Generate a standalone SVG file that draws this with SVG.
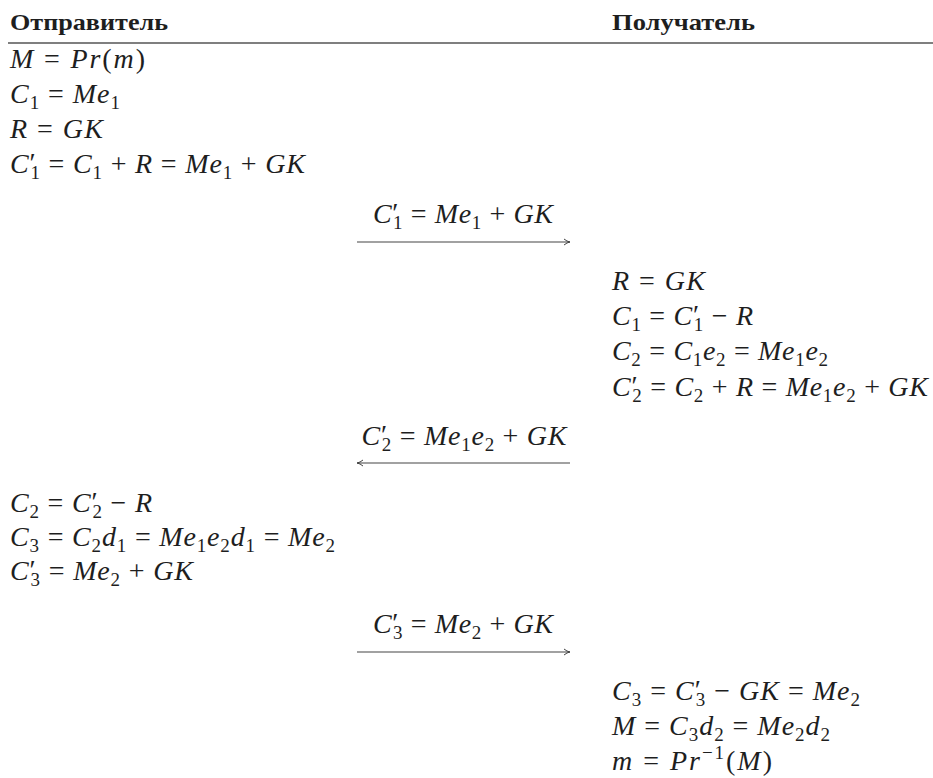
<svg xmlns="http://www.w3.org/2000/svg" width="933" height="778" viewBox="0 0 933 778">
<style>
text{font-family:"Liberation Serif","DejaVu Serif","Noto Serif",serif;fill:#1e1e1e;font-size:28px}
.h{font-weight:bold;font-size:23px}
.i{font-style:italic}
.s{font-size:19px}
.lbl{text-anchor:middle}
.conn line{stroke:#444;stroke-width:1.2}
</style>
<defs>
<marker id="ah" viewBox="0 0 8 8" refX="7" refY="4" markerWidth="8" markerHeight="8" markerUnits="userSpaceOnUse" orient="auto">
<path d="M1,1 Q4,3.5 7,4 Q4,4.5 1,7" fill="none" stroke="#444" stroke-width="1"/>
</marker>
</defs>
<rect width="933" height="778" fill="#fff"/>
<g id="header">
<text class="h" x="10" y="30" textLength="158" lengthAdjust="spacingAndGlyphs">Отправитель</text>
<text class="h" x="612" y="30" textLength="143" lengthAdjust="spacingAndGlyphs">Получатель</text>
<line x1="8" y1="43" x2="933" y2="43" stroke="#555" stroke-width="1.3"/>
</g>
<g id="sender-1">
<text x="10" y="68" textLength="135"><tspan class="i">M</tspan> = <tspan class="i">Pr</tspan>(<tspan class="i">m</tspan>)</text>
<text x="10" y="103" textLength="110"><tspan class="i">C</tspan><tspan class="s" dy="6">1</tspan><tspan dy="-6"> = </tspan><tspan class="i">Me</tspan><tspan class="s" dy="6">1</tspan></text>
<text x="10" y="138" textLength="93"><tspan class="i">R</tspan> = <tspan class="i">GK</tspan></text>
<text x="10" y="173" textLength="295"><tspan class="i">C</tspan><tspan dy="-1">′</tspan><tspan class="s" dx="-6" dy="7">1</tspan><tspan dy="-6"> = </tspan><tspan class="i">C</tspan><tspan class="s" dy="6">1</tspan><tspan dy="-6"> + </tspan><tspan class="i">R</tspan> = <tspan class="i">Me</tspan><tspan class="s" dy="6">1</tspan><tspan dy="-6"> + </tspan><tspan class="i">GK</tspan></text>
</g>
<g id="message-1">
<text class="lbl" x="463" y="223" textLength="180"><tspan class="i">C</tspan><tspan dy="-1">′</tspan><tspan class="s" dx="-6" dy="7">1</tspan><tspan dy="-6"> = </tspan><tspan class="i">Me</tspan><tspan class="s" dy="6">1</tspan><tspan dy="-6"> + </tspan><tspan class="i">GK</tspan></text>
</g>
<g id="receiver-1">
<text x="612" y="290" textLength="93"><tspan class="i">R</tspan> = <tspan class="i">GK</tspan></text>
<text x="612" y="325" textLength="141"><tspan class="i">C</tspan><tspan class="s" dy="6">1</tspan><tspan dy="-6"> = </tspan><tspan class="i">C</tspan><tspan dy="-1">′</tspan><tspan class="s" dx="-6" dy="7">1</tspan><tspan dy="-6"> − </tspan><tspan class="i">R</tspan></text>
<text x="612" y="360" textLength="216"><tspan class="i">C</tspan><tspan class="s" dy="6">2</tspan><tspan dy="-6"> = </tspan><tspan class="i">C</tspan><tspan class="s" dy="6">1</tspan><tspan class="i" dy="-6">e</tspan><tspan class="s" dy="6">2</tspan><tspan dy="-6"> = </tspan><tspan class="i">Me</tspan><tspan class="s" dy="6">1</tspan><tspan class="i" dy="-6">e</tspan><tspan class="s" dy="6">2</tspan></text>
<text x="612" y="396" textLength="316"><tspan class="i">C</tspan><tspan dy="-1">′</tspan><tspan class="s" dx="-6" dy="7">2</tspan><tspan dy="-6"> = </tspan><tspan class="i">C</tspan><tspan class="s" dy="6">2</tspan><tspan dy="-6"> + </tspan><tspan class="i">R</tspan> = <tspan class="i">Me</tspan><tspan class="s" dy="6">1</tspan><tspan class="i" dy="-6">e</tspan><tspan class="s" dy="6">2</tspan><tspan dy="-6"> + </tspan><tspan class="i">GK</tspan></text>
</g>
<g id="message-2">
<text class="lbl" x="464" y="445" textLength="205"><tspan class="i">C</tspan><tspan dy="-1">′</tspan><tspan class="s" dx="-6" dy="7">2</tspan><tspan dy="-6"> = </tspan><tspan class="i">Me</tspan><tspan class="s" dy="6">1</tspan><tspan class="i" dy="-6">e</tspan><tspan class="s" dy="6">2</tspan><tspan dy="-6"> + </tspan><tspan class="i">GK</tspan></text>
</g>
<g id="sender-2">
<text x="10" y="512" textLength="142"><tspan class="i">C</tspan><tspan class="s" dy="6">2</tspan><tspan dy="-6"> = </tspan><tspan class="i">C</tspan><tspan dy="-1">′</tspan><tspan class="s" dx="-6" dy="7">2</tspan><tspan dy="-6"> − </tspan><tspan class="i">R</tspan></text>
<text x="10" y="546" textLength="325"><tspan class="i">C</tspan><tspan class="s" dy="6">3</tspan><tspan dy="-6"> = </tspan><tspan class="i">C</tspan><tspan class="s" dy="6">2</tspan><tspan class="i" dy="-6">d</tspan><tspan class="s" dy="6">1</tspan><tspan dy="-6"> = </tspan><tspan class="i">Me</tspan><tspan class="s" dy="6">1</tspan><tspan class="i" dy="-6">e</tspan><tspan class="s" dy="6">2</tspan><tspan class="i" dy="-6">d</tspan><tspan class="s" dy="6">1</tspan><tspan dy="-6"> = </tspan><tspan class="i">Me</tspan><tspan class="s" dy="6">2</tspan></text>
<text x="10" y="580" textLength="183"><tspan class="i">C</tspan><tspan dy="-1">′</tspan><tspan class="s" dx="-6" dy="7">3</tspan><tspan dy="-6"> = </tspan><tspan class="i">Me</tspan><tspan class="s" dy="6">2</tspan><tspan dy="-6"> + </tspan><tspan class="i">GK</tspan></text>
</g>
<g id="message-3">
<text class="lbl" x="463" y="633" textLength="180"><tspan class="i">C</tspan><tspan dy="-1">′</tspan><tspan class="s" dx="-6" dy="7">3</tspan><tspan dy="-6"> = </tspan><tspan class="i">Me</tspan><tspan class="s" dy="6">2</tspan><tspan dy="-6"> + </tspan><tspan class="i">GK</tspan></text>
</g>
<g id="receiver-2">
<text x="612" y="700" textLength="248"><tspan class="i">C</tspan><tspan class="s" dy="6">3</tspan><tspan dy="-6"> = </tspan><tspan class="i">C</tspan><tspan dy="-1">′</tspan><tspan class="s" dx="-6" dy="7">3</tspan><tspan dy="-6"> − </tspan><tspan class="i">GK</tspan> = <tspan class="i">Me</tspan><tspan class="s" dy="6">2</tspan></text>
<text x="612" y="735" textLength="218"><tspan class="i">M</tspan> = <tspan class="i">C</tspan><tspan class="s" dy="6">3</tspan><tspan class="i" dy="-6">d</tspan><tspan class="s" dy="6">2</tspan><tspan dy="-6"> = </tspan><tspan class="i">Me</tspan><tspan class="s" dy="6">2</tspan><tspan class="i" dy="-6">d</tspan><tspan class="s" dy="6">2</tspan></text>
<text x="612" y="770" textLength="160"><tspan class="i">m</tspan> = <tspan class="i">Pr</tspan><tspan class="s" dy="-11">−1</tspan><tspan dy="11">(</tspan><tspan class="i">M</tspan>)</text>
</g>
<g id="connectors" class="conn">
<line x1="357" y1="242" x2="570" y2="242" marker-end="url(#ah)"/>
<line x1="570" y1="463" x2="357" y2="463" marker-end="url(#ah)"/>
<line x1="357" y1="652" x2="570" y2="652" marker-end="url(#ah)"/>
</g>
</svg>
